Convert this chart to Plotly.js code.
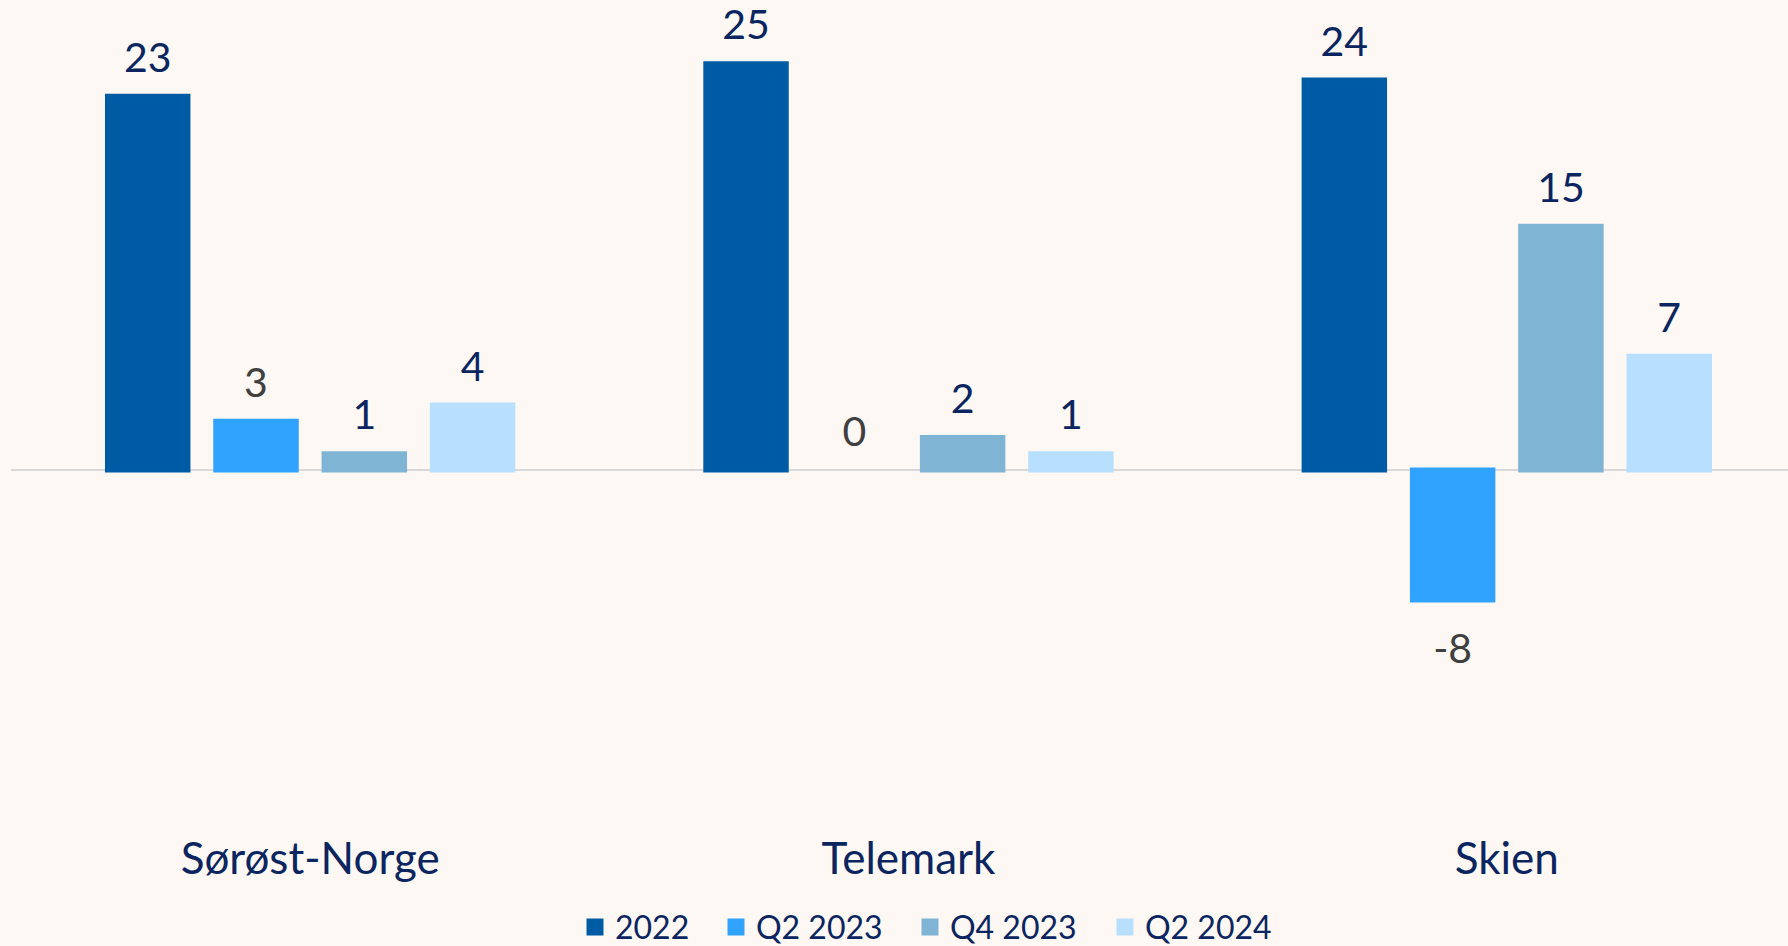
<!DOCTYPE html>
<html>
<head>
<meta charset="utf-8">
<script src="https://cdn.plot.ly/plotly-3.0.1.min.js"></script>
<style>
  html, body { margin: 0; padding: 0; background: #FDF8F4; }
  #chart { width: 1788px; height: 946px; }
</style>
</head>
<body>
<div id="chart"></div>
<script>
// ---- data ----
const categories = ["Sørøst-Norge", "Telemark", "Skien"];
const seriesNames = ["2022", "Q2 2023", "Q4 2023", "Q2 2024"];
const values2022 = [23, 25, 24];
const valuesQ2_2023 = [3, 0, -8];
const valuesQ4_2023 = [1, 2, 15];
const valuesQ2_2024 = [4, 1, 7];

// ---- styles ----
const seriesValues = [values2022, valuesQ2_2023, valuesQ4_2023, valuesQ2_2024];
const barColors = ["#005BA5", "#30A2FF", "#7FB4D4", "#B8DFFD"];
const labelColors = ["#0B2560", "#404040", "#0B2560", "#0B2560"];
const navy = "#0B2560";
const fontFamily = "Lato, 'Noto Sans', sans-serif";
const legendIds = ["legend", "legend2", "legend3", "legend4"];
const legendX = [575, 716, 910, 1105];   // left edge of each legend entry (px)

const traces = [];
seriesValues.forEach((vals, i) => {
  traces.push({
    type: "bar",
    name: seriesNames[i],
    x: categories,
    y: vals,
    marker: {
      color: barColors[i],
      line: { color: barColors[i], width: vals.map(v => v === 0 ? 0 : 5) }
    },
    legend: legendIds[i],
    hoverinfo: "skip"
  });
});
// value labels (scatter text, grouped to align with bars)
seriesValues.forEach((vals, i) => {
  traces.push({
    type: "scatter",
    mode: "markers+text",
    x: categories,
    y: vals,
    text: vals.map(v => String(v)),
    textposition: vals.map(v => v < 0 ? "bottom center" : "top center"),
    textfont: { family: fontFamily, size: 41, color: labelColors[i] },
    marker: { size: vals.map(v => v < 0 ? 50 : 21), opacity: 0, color: barColors[i] },
    showlegend: false,
    hoverinfo: "skip",
    cliponaxis: false
  });
});

const legendBase = (xpx) => ({
  orientation: "h",
  xref: "container",
  yref: "container",
  x: xpx / 1788,
  xanchor: "left",
  y: 0.02,
  yanchor: "middle",
  font: { family: fontFamily, size: 32, color: navy },
  bgcolor: "rgba(0,0,0,0)",
  borderwidth: 0
});

const layout = {
  width: 1788,
  height: 946,
  paper_bgcolor: "#FDF8F4",
  plot_bgcolor: "#FDF8F4",
  margin: { l: 11, r: 0, t: 0, b: 120 },
  barmode: "group",
  bargap: 0.276,
  bargroupgap: 0.257,
  scattermode: "group",
  scattergap: 0.276,
  font: { family: fontFamily, color: navy },
  xaxis: {
    type: "category",
    range: [-0.5, 2.47],
    showline: false,
    showgrid: false,
    zeroline: false,
    ticks: "",
    ticklabelstandoff: 3,
    tickfont: { family: fontFamily, size: 44, color: navy }
  },
  yaxis: {
    range: [-21.9, 28.92],
    showgrid: false,
    showticklabels: false,
    ticks: "",
    showline: false,
    zeroline: true,
    zerolinecolor: "#D9D9D9",
    zerolinewidth: 2
  },
  showlegend: true,
  legend: legendBase(legendX[0]),
  legend2: legendBase(legendX[1]),
  legend3: legendBase(legendX[2]),
  legend4: legendBase(legendX[3])
};

Plotly.newPlot("chart", traces, layout, { displayModeBar: false, staticPlot: true });
</script>
</body>
</html>
